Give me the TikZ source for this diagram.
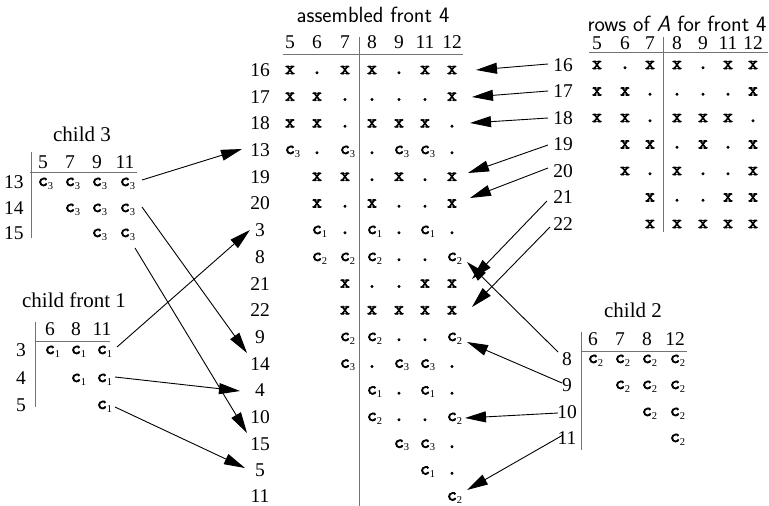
\documentclass[tikz,border=0pt]{standalone}
\usepackage{fontspec}
\setmainfont{Liberation Serif}
\newfontfamily\entfam{lmmono10-regular.otf}[FakeBold=3.5]
\usetikzlibrary{arrows.meta}
\newcommand\numf{\fontsize{19.5}{22}\selectfont}
\newcommand\ttlf{\fontsize{21}{24}\selectfont}
\newcommand\sttlf{\fontsize{22}{25}\selectfont}
\newcommand\entf{\fontsize{18.5}{20}\entfam}
\newcommand\subf{\fontsize{10.5}{11}\selectfont}
\newcommand\X{{\entf x}}
\newcommand\D{{\entf .}}
\newcommand\Csub[1]{{\entf c}\rlap{\raisebox{-3pt}{\subf #1}}}
\newcommand\Ca{\Csub{1}}
\newcommand\Cb{\Csub{2}}
\newcommand\Cc{\Csub{3}}
% #1 prefix, #2 label, #3 y, #4 label x, #5 list x/entry
\newcommand\mrow[5]{%
  \node[num] (#1#2) at (#4,#3) {#2};
  \foreach \xx/\ee [count=\k] in {#5} {\node[ent] (#1#2-\k) at (\xx,#3+4) {\ee};}%
}
\newcommand\hdr[3]{% #1 prefix, #2 y, #3 list x/label
  \foreach \xx/\ll in {#3} {\node[num] (#1h\ll) at (\xx,#2) {\ll};}%
}
\begin{document}
\begin{tikzpicture}[x=1pt,y=-1pt,
  num/.style={font=\numf, inner sep=0pt},
  ent/.style={inner sep=0pt, anchor=base},
  ttl/.style={font=\ttlf, inner sep=0pt, anchor=base},
  sttl/.style={font=\sttlf\sffamily, inner sep=0pt, anchor=base},
  rule/.style={draw=black!55, line width=0.9pt},
  arr/.style={-{Triangle[length=21pt,width=11pt]}, line width=0.9pt}]
\useasboundingbox (0,0) rectangle (769,506);

% ---------- assembled front 4 ----------
\node[sttl] (tM) at (373,22) {assembled front 4};
\hdr{M}{42}{290/5,317/6,345/7,372/8,399/9,425/11,452/12}
\draw[rule] (283,54) -- (463,54);
\draw[rule] (359,37) -- (359,506);
\mrow{M}{16}{70}{260}{290/\X,317/\D,345/\X,372/\X,399/\D,425/\X,452/\X}
\mrow{M}{17}{96.7}{260}{290/\X,317/\X,345/\D,372/\D,399/\D,425/\D,452/\X}
\mrow{M}{18}{123.4}{260}{290/\X,317/\X,345/\D,372/\X,399/\X,425/\X,452/\D}
\mrow{M}{13}{150}{260}{290/\Cc,317/\D,345/\Cc,372/\D,399/\Cc,425/\Cc,452/\D}
\mrow{M}{19}{176.8}{260}{317/\X,345/\X,372/\D,399/\X,425/\D,452/\X}
\mrow{M}{20}{203.5}{260}{317/\X,345/\D,372/\X,399/\D,425/\D,452/\X}
\mrow{M}{3}{230}{260}{317/\Ca,345/\D,372/\Ca,399/\D,425/\Ca,452/\D}
\mrow{M}{8}{257}{260}{317/\Cb,345/\Cb,372/\Cb,399/\D,425/\D,452/\Cb}
\mrow{M}{21}{283.6}{260}{345/\X,372/\D,399/\D,425/\X,452/\X}
\mrow{M}{22}{310.3}{260}{345/\X,372/\X,399/\X,425/\X,452/\X}
\mrow{M}{9}{337}{260}{345/\Cb,372/\Cb,399/\D,425/\D,452/\Cb}
\mrow{M}{14}{363.7}{260}{345/\Cc,372/\D,399/\Cc,425/\Cc,452/\D}
\mrow{M}{4}{390.4}{260}{372/\Ca,399/\D,425/\Ca,452/\D}
\mrow{M}{10}{417}{260}{372/\Cb,399/\D,425/\D,452/\Cb}
\mrow{M}{15}{443.8}{260}{399/\Cc,425/\Cc,452/\D}
\mrow{M}{5}{470.5}{260}{425/\Ca,452/\D}
\mrow{M}{11}{496.5}{260}{452/\Cb}

% ---------- rows of A ----------
\node[sttl] (tA) at (677,31) {rows of \textit{A} for front 4};
\hdr{A}{43}{597/5,625/6,650/7,677/8,703/9,728/11,753/12}
\draw[rule] (589,52) -- (768,52);
\draw[rule] (663,37) -- (663,232);
\mrow{A}{16}{65}{563}{597/\X,625/\D,650/\X,677/\X,703/\D,728/\X,753/\X}
\mrow{A}{17}{91.5}{563}{597/\X,625/\X,650/\D,677/\D,703/\D,728/\D,753/\X}
\mrow{A}{18}{118}{563}{597/\X,625/\X,650/\D,677/\X,703/\X,728/\X,753/\D}
\mrow{A}{19}{144.5}{563}{625/\X,650/\X,677/\D,703/\X,728/\D,753/\X}
\mrow{A}{20}{171}{563}{625/\X,650/\D,677/\X,703/\D,728/\D,753/\X}
\mrow{A}{21}{197.5}{563}{650/\X,677/\D,703/\D,728/\X,753/\X}
\mrow{A}{22}{224}{563}{650/\X,677/\X,703/\X,728/\X,753/\X}

% ---------- child 3 ----------
\node[ttl] (tK) at (82,141) {child 3};
\hdr{K}{162}{43/5,70/7,97/9,125/11}
\draw[rule] (30,172) -- (137,172);
\draw[rule] (31,152) -- (31,238);
\mrow{K}{13}{182}{14}{43/\Cc,70/\Cc,97/\Cc,125/\Cc}
\mrow{K}{14}{208}{14}{70/\Cc,97/\Cc,125/\Cc}
\mrow{K}{15}{233}{14}{97/\Cc,125/\Cc}

% ---------- child front 1 ----------
\node[ttl] (tF) at (74,307) {child front 1};
\hdr{F}{329}{50/6,76/8,102/11}
\draw[rule] (35,341) -- (110,341);
\draw[rule] (35,322) -- (35,407);
\mrow{F}{3}{350}{21}{50/\Ca,76/\Ca,102/\Ca}
\mrow{F}{4}{378}{21}{76/\Ca,102/\Ca}
\mrow{F}{5}{405}{21}{102/\Ca}

% ---------- child 2 ----------
\node[ttl] (tB) at (633,317) {child 2};
\hdr{B}{339}{593/6,620/7,647/8,675/12}
\draw[rule] (581,351) -- (687,351);
\draw[rule] (581,332) -- (581,450);
\mrow{B}{8}{359}{567}{593/\Cb,620/\Cb,647/\Cb,675/\Cb}
\mrow{B}{9}{385}{567}{620/\Cb,647/\Cb,675/\Cb}
\mrow{B}{10}{412}{567}{647/\Cb,675/\Cb}
\mrow{B}{11}{438}{567}{675/\Cb}

% ---------- arrow end points ----------
\coordinate (k13s) at (142,180); \coordinate (k13t) at (242,149);
\coordinate (k14s) at (142,207); \coordinate (k14t) at (247,353);
\coordinate (k15s) at (135,248); \coordinate (k15t) at (247,433);
\coordinate (f3s) at (117,347);  \coordinate (f3t) at (250,230);
\coordinate (f4s) at (115,377);  \coordinate (f4t) at (240,391);
\coordinate (f5s) at (115,407);  \coordinate (f5t) at (245,468);
\coordinate (a16s) at (548,64);  \coordinate (a16t) at (476,70);
\coordinate (a17s) at (548,91);  \coordinate (a17t) at (472,97);
\coordinate (a18s) at (548,118); \coordinate (a18t) at (470,123);
\coordinate (a19s) at (548,145); \coordinate (a19t) at (468,173);
\coordinate (a20s) at (548,168); \coordinate (a20t) at (470,198);
\coordinate (a21s) at (547,201); \coordinate (a21t) at (472,279);
\coordinate (a22s) at (550,227); \coordinate (a22t) at (472,307);
\coordinate (b8s) at (558,352);  \coordinate (b8t) at (467,262);
\coordinate (b9s) at (562,383);  \coordinate (b9t) at (467,342);
\coordinate (b10s) at (558,413); \coordinate (b10t) at (465,418);
\coordinate (b11s) at (563,435); \coordinate (b11t) at (467,490);

\foreach \p in {k13,k14,k15,f3,f4,f5,a16,a17,a18,a19,a20,a21,a22,b8,b9,b10,b11}
  \draw[arr] (\p s) -- (\p t);
\end{tikzpicture}
\end{document}
